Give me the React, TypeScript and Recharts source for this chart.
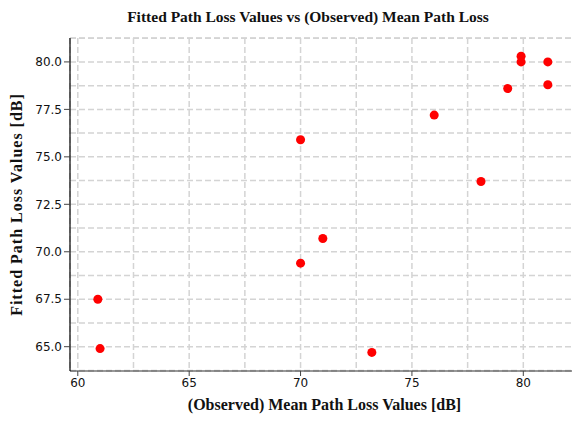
import React from 'react';
import {
  ScatterChart,
  Scatter,
  XAxis,
  YAxis,
  ZAxis,
  CartesianGrid,
  Label,
} from 'recharts';

// observed mean path loss (x) vs fitted path loss (y), both in dB
const observed = [60.9, 61.0, 70.0, 70.0, 71.0, 73.2, 76.0, 78.1, 79.3, 79.9, 79.9, 81.1, 81.1];
const fitted = [67.5, 64.9, 75.9, 69.4, 70.7, 64.7, 77.2, 73.7, 78.6, 80.3, 80.0, 80.0, 78.8];

const xTicks = [60, 65, 70, 75, 80];
const yTicks = [65, 67.5, 70, 72.5, 75, 77.5, 80];
const xGridTicks = [60, 62.5, 65, 67.5, 70, 72.5, 75, 77.5, 80, 82.5];
const yGridTicks = [63.75, 65, 66.25, 67.5, 68.75, 70, 71.25, 72.5, 73.75, 75, 76.25, 77.5, 78.75, 80, 81.25];

const xDomain = [59.65, 82.5];
const yDomain = [63.72, 81.26];

const data = observed.map((x, i) => ({ x, y: fitted[i] }));

const tickStyle = { fill: '#111', fontSize: 12, fontFamily: 'DejaVu Sans' };
const labelStyle = {
  fill: '#111',
  fontSize: 16,
  fontWeight: 700,
  fontFamily: 'Liberation Serif',
};

const App = () => {
  return (
    <div style={{ position: 'absolute', left: 0, top: 0, width: 572, height: 422, overflow: 'hidden', background: '#fff' }}>
      <div
        style={{
          position: 'absolute',
          left: 0,
          width: 616,
          top: 8,
          textAlign: 'center',
          fontFamily: 'Liberation Serif',
          fontWeight: 700,
          fontSize: 15.5,
          color: '#111',
        }}
      >
        Fitted Path Loss Values vs (Observed) Mean Path Loss
      </div>
      <ScatterChart width={590} height={422} margin={{ top: 38, right: 11, left: 0, bottom: 0 }}>
        <XAxis xAxisId="grid" type="number" dataKey="x" domain={xDomain} ticks={xGridTicks} hide allowDataOverflow />
        <YAxis yAxisId="grid" type="number" dataKey="y" domain={yDomain} ticks={yGridTicks} hide allowDataOverflow />
        <ZAxis range={[50, 50]} />
        <CartesianGrid
          xAxisId="grid"
          yAxisId="grid"
          stroke="#d4d4d4"
          strokeWidth={1.5}
          strokeDasharray="6 3"
        />
        <XAxis
          xAxisId="top"
          orientation="top"
          type="number"
          dataKey="x"
          domain={xDomain}
          height={0}
          tick={false}
          tickLine={false}
          axisLine={{ stroke: '#000', strokeWidth: 1.5 }}
          allowDataOverflow
        />
        <XAxis
          type="number"
          dataKey="x"
          domain={xDomain}
          ticks={xTicks}
          height={51}
          tick={tickStyle}
          tickLine={{ stroke: '#444' }}
          tickSize={5}
          axisLine={{ stroke: '#333', strokeWidth: 1.2 }}
          allowDataOverflow
        >
          <Label value="(Observed) Mean Path Loss Values [dB]" position="insideBottom" offset={12} style={labelStyle} />
        </XAxis>
        <YAxis
          type="number"
          dataKey="y"
          domain={yDomain}
          ticks={yTicks}
          width={70}
          tick={tickStyle}
          tickFormatter={(v: number) => v.toFixed(1)}
          tickLine={{ stroke: '#444' }}
          axisLine={{ stroke: '#000', strokeWidth: 1.2 }}
          allowDataOverflow
        >
          <Label
            value="Fitted Path Loss Values [dB]"
            angle={-90}
            position="insideLeft"
            offset={16}
            style={{ ...labelStyle, textAnchor: 'middle', letterSpacing: 1 }}
          />
        </YAxis>
        <Scatter data={data} fill="#ff0000" shape="circle" isAnimationActive={false} />
      </ScatterChart>
    </div>
  );
};

export default App;
